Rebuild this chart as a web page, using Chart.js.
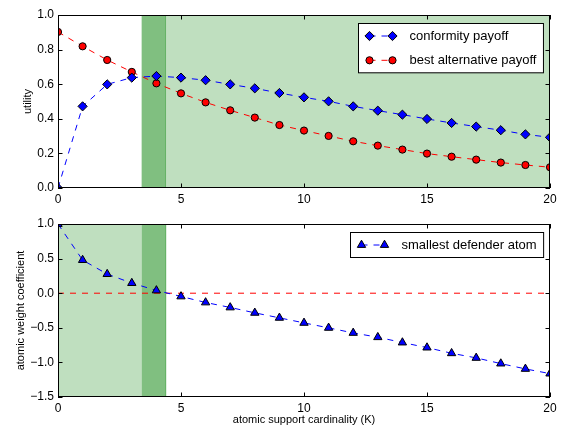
<!DOCTYPE html>
<html>
<head>
<meta charset="utf-8">
<script src="https://cdn.jsdelivr.net/npm/chart.js@4.4.1/dist/chart.umd.min.js"></script>
<style>
  html, body { margin: 0; padding: 0; background: #fff; }
  #wrap { position: relative; width: 563px; height: 429px; background: #fff; }
  canvas { position: absolute; left: 0; }
  #top { top: 0; }
  #bottom { top: 205px; }
</style>
</head>
<body>
<div id="wrap">
  <canvas id="top" width="563" height="205"></canvas>
  <canvas id="bottom" width="563" height="224"></canvas>
</div>
<script>
// ---------------- data ----------------
const K = [0, 1, 2, 3, 4, 5, 6, 7, 8, 9, 10, 11, 12, 13, 14, 15, 16, 17, 18, 19, 20];
const conformityPayoff = [0.0, 0.472, 0.599, 0.638, 0.647, 0.638, 0.623, 0.599, 0.576, 0.549, 0.524,
  0.501, 0.472, 0.447, 0.424, 0.399, 0.376, 0.355, 0.334, 0.310, 0.293];
const bestAlternativePayoff = [0.902, 0.819, 0.740, 0.671, 0.605, 0.547, 0.495, 0.449, 0.407, 0.364, 0.332,
  0.301, 0.270, 0.245, 0.222, 0.199, 0.181, 0.164, 0.147, 0.133, 0.120];
const smallestDefenderAtom = [1.0, 0.479, 0.276, 0.146, 0.040, -0.047, -0.134, -0.206, -0.284, -0.356, -0.429,
  -0.501, -0.574, -0.636, -0.713, -0.786, -0.868, -0.935, -1.017, -1.094, -1.162];
const zeroLineK = [0, 20];
const zeroLineY = [0, 0];

const topLightBand = [4.4, 20];
const bottomLightBand = [0, 3.4];
const darkBand = [3.4, 4.4];

const xTicks = [0, 5, 10, 15, 20];
const topYTicks = [0.0, 0.2, 0.4, 0.6, 0.8, 1.0];
const bottomYTicks = [-1.5, -1.0, -0.5, 0.0, 0.5, 1.0];

const xTitle = 'atomic support cardinality (K)';
const topYTitle = 'utility';
const bottomYTitle = 'atomic weight coefficient';

// ---------------- helpers ----------------
const FONT = "'Liberation Sans', Arial, Helvetica, sans-serif";
Chart.defaults.font.family = FONT;
Chart.defaults.color = '#000';

function pts(xs, ys) { return xs.map((x, i) => ({ x: x, y: ys[i] })); }
function fmt(v) { return (v < -1e-9 ? '\u2212' : '') + Math.abs(v).toFixed(1); }

function marker(ctx, style, x, y, r, fill) {
  ctx.save();
  ctx.beginPath();
  if (style === 'circle') {
    ctx.arc(x, y, r, 0, Math.PI * 2);
  } else if (style === 'rectRot') {
    ctx.moveTo(x - r, y); ctx.lineTo(x, y - r); ctx.lineTo(x + r, y); ctx.lineTo(x, y + r);
    ctx.closePath();
  } else if (style === 'triangle') {
    const w = r * Math.sqrt(3) / 2;
    ctx.moveTo(x, y - r); ctx.lineTo(x + w, y + r / 2); ctx.lineTo(x - w, y + r / 2);
    ctx.closePath();
  }
  ctx.fillStyle = fill; ctx.fill();
  ctx.lineWidth = 1; ctx.strokeStyle = '#000'; ctx.stroke();
  ctx.restore();
}

const bandsPlugin = {
  id: 'bands',
  beforeDatasetsDraw(chart, args, opts) {
    const { ctx, chartArea: a, scales: { x } } = chart;
    ctx.save();
    (opts.bands || []).forEach(b => {
      const x0 = x.getPixelForValue(b.range[0]);
      const x1 = x.getPixelForValue(b.range[1]);
      ctx.fillStyle = b.color;
      ctx.fillRect(x0, a.top, x1 - x0, a.bottom - a.top);
    });
    (opts.edges || []).forEach(e => {
      const px = Math.round(x.getPixelForValue(e.value)) - 0.5;
      ctx.strokeStyle = e.color; ctx.lineWidth = 1;
      ctx.beginPath(); ctx.moveTo(px, a.top); ctx.lineTo(px, a.bottom); ctx.stroke();
    });
    ctx.restore();
  }
};

const framePlugin = {
  id: 'frame',
  afterDraw(chart) {
    const { ctx, chartArea: a, scales: { x, y } } = chart;
    const L = 4.5;
    ctx.save();
    ctx.strokeStyle = '#000'; ctx.lineWidth = 1;
    ctx.strokeRect(a.left + 0.5, a.top + 0.5, a.right - a.left - 1, a.bottom - a.top - 1);
    ctx.beginPath();
    x.ticks.forEach(t => {
      const px = Math.round(x.getPixelForValue(t.value)) + 0.5;
      ctx.moveTo(px, a.bottom); ctx.lineTo(px, a.bottom - L);
      ctx.moveTo(px, a.top); ctx.lineTo(px, a.top + L);
    });
    y.ticks.forEach(t => {
      const py = Math.round(y.getPixelForValue(t.value)) + 0.5;
      ctx.moveTo(a.left, py); ctx.lineTo(a.left + L, py);
      ctx.moveTo(a.right, py); ctx.lineTo(a.right - L, py);
    });
    ctx.stroke();
    ctx.restore();
  }
};

const legendPlugin = {
  id: 'mplLegend',
  afterDraw(chart, args, opts) {
    const { ctx, chartArea: a } = chart;
    const items = chart.data.datasets.filter(d => d.label && !d.hideInLegend);
    ctx.save();
    ctx.font = '13px ' + FONT;
    let tw = 0;
    items.forEach(d => { tw = Math.max(tw, ctx.measureText(d.label).width); });
    const rowH = 24.3;
    const w = 51 + tw + 7;
    const h = 25 + rowH * (items.length - 1);
    const bx = Math.round(a.right - 7 - w) + 0.5;
    const by = Math.round(a.top + 7.5) + 0.5;
    ctx.fillStyle = '#fff';
    ctx.fillRect(bx, by, w, h);
    ctx.strokeStyle = '#000'; ctx.lineWidth = 1;
    ctx.strokeRect(bx, by, w, h);
    items.forEach((d, i) => {
      const cy = by + 12.5 + i * rowH;
      ctx.save();
      ctx.strokeStyle = d.borderColor; ctx.lineWidth = 1; ctx.setLineDash(d.borderDash || []);
      ctx.beginPath(); ctx.moveTo(bx + 11, cy); ctx.lineTo(bx + 34, cy); ctx.stroke();
      ctx.restore();
      marker(ctx, d.pointStyle, bx + 11, cy, d.pointRadius, d.pointBackgroundColor);
      marker(ctx, d.pointStyle, bx + 34, cy, d.pointRadius, d.pointBackgroundColor);
      ctx.fillStyle = '#000';
      ctx.textBaseline = 'middle';
      ctx.textAlign = 'left';
      ctx.fillText(d.label, bx + 51, cy + 0.5);
    });
    ctx.restore();
  }
};

function seriesDS(label, ys, color, style, r) {
  return {
    label: label,
    data: pts(K, ys),
    borderColor: color,
    borderWidth: 1,
    borderDash: [6, 6],
    pointStyle: style,
    pointRadius: r,
    pointHoverRadius: r,
    pointBackgroundColor: color,
    pointBorderColor: '#000',
    pointBorderWidth: 1,
    tension: 0,
    fill: false
  };
}

function scales(yTicks, yTitle, yTitlePad, xAxisH, showXTitle) {
  return {
    x: {
      type: 'linear', min: xTicks[0], max: xTicks[xTicks.length - 1],
      grid: { display: false, drawTicks: false },
      border: { display: false },
      afterBuildTicks: s => { s.ticks = xTicks.map(v => ({ value: v })); },
      ticks: { font: { size: 12 }, padding: 4, maxRotation: 0, autoSkip: false, callback: v => String(v) },
      title: { display: showXTitle, text: xTitle, font: { size: 11 }, padding: { top: 0, bottom: 2.4 } },
      afterFit: s => { s.height = xAxisH; }
    },
    y: {
      type: 'linear', min: yTicks[0], max: yTicks[yTicks.length - 1],
      grid: { display: false, drawTicks: false },
      border: { display: false },
      afterBuildTicks: s => { s.ticks = yTicks.map(v => ({ value: v })); },
      ticks: { font: { size: 12 }, padding: 4, autoSkip: false, callback: v => fmt(v) },
      title: { display: true, text: yTitle, font: { size: 11 }, padding: { top: yTitlePad, bottom: 0 } },
      afterFit: s => { s.width = 58; }
    }
  };
}

const common = {
  responsive: false,
  animation: false,
  devicePixelRatio: 1,
  events: [],
  plugins: { legend: { display: false }, tooltip: { enabled: false } }
};

new Chart(document.getElementById('top'), {
  type: 'line',
  data: {
    datasets: [
      seriesDS('conformity payoff', conformityPayoff, '#0000ff', 'rectRot', 4.6),
      seriesDS('best alternative payoff', bestAlternativePayoff, '#ff0000', 'circle', 3.6)
    ]
  },
  options: Object.assign({}, common, {
    layout: { padding: { top: 15, right: 13, left: 0, bottom: 0 } },
    scales: scales(topYTicks, topYTitle, 21, 17, false),
    plugins: Object.assign({}, common.plugins, {
      bands: {
        bands: [
          { range: topLightBand, color: '#bfdfbf' },
          { range: darkBand, color: '#80bf80' }
        ],
        edges: [{ value: darkBand[1], color: '#66b366' }]
      }
    })
  }),
  plugins: [bandsPlugin, framePlugin, legendPlugin]
});

new Chart(document.getElementById('bottom'), {
  type: 'line',
  data: {
    datasets: [
      seriesDS('smallest defender atom', smallestDefenderAtom, '#0000ff', 'triangle', 4.8),
      {
        label: '', hideInLegend: true,
        data: pts(zeroLineK, zeroLineY),
        borderColor: '#ff0000', borderWidth: 1, borderDash: [6, 6],
        pointRadius: 0, fill: false, tension: 0
      }
    ]
  },
  options: Object.assign({}, common, {
    layout: { padding: { top: 19, right: 13, left: 0, bottom: 0 } },
    scales: scales(bottomYTicks, bottomYTitle, 14.4, 32, true),
    plugins: Object.assign({}, common.plugins, {
      bands: {
        bands: [
          { range: bottomLightBand, color: '#bfdfbf' },
          { range: darkBand, color: '#80bf80' }
        ],
        edges: [{ value: darkBand[1], color: '#66b366' }]
      }
    })
  }),
  plugins: [bandsPlugin, framePlugin, legendPlugin]
});
</script>
</body>
</html>
